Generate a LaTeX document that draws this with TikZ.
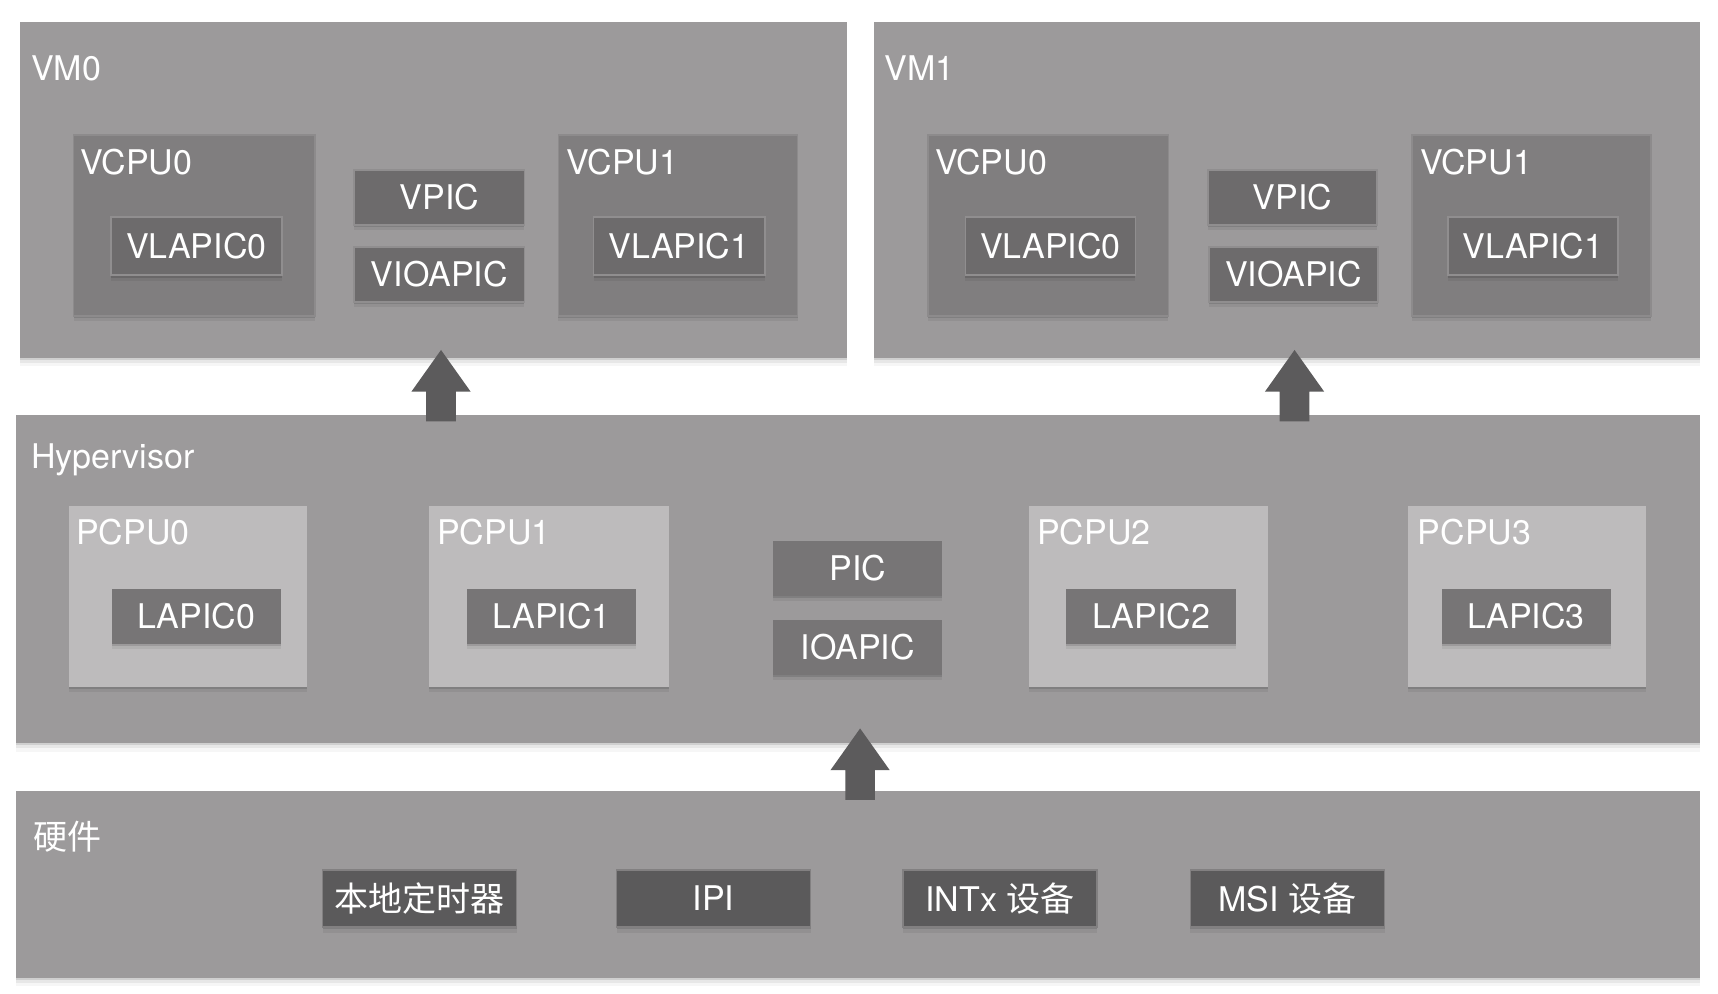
\documentclass[tikz,border=0pt]{standalone}
\usepackage{fontspec}
\setmainfont{TeX Gyre Heros}
\newfontfamily\cjk{Noto Sans CJK SC}
\usetikzlibrary{shadows}
\definecolor{clayer}{HTML}{9C9A9B}
\definecolor{cvcpu}{HTML}{807E7F}
\definecolor{cvin}{HTML}{6D6B6C}
\definecolor{cvedge}{HTML}{908E8F}
\definecolor{cpcpu}{HTML}{BDBBBC}
\definecolor{clapic}{HTML}{777576}
\definecolor{chw}{HTML}{5B5A5B}
\definecolor{carrow}{HTML}{5C5B5C}
\newcommand\BX[7]{\node[#2, minimum width={(#5-#3)*0.5pt}, minimum height={(#6-#4)*0.5pt}] (#1) at (#3,#4) {#7};}
\begin{document}
\begin{tikzpicture}[x=0.5pt,y=-0.5pt,
  softshadow/.style={drop shadow={shadow xshift=0pt, shadow yshift=-1pt, opacity=0.10, fill=black},
                     drop shadow={shadow xshift=0pt, shadow yshift=-2.5pt, opacity=0.06, fill=black},
                     drop shadow={shadow xshift=0pt, shadow yshift=-4pt, opacity=0.035, fill=black}},
  smallshadow/.style={drop shadow={shadow xshift=0pt, shadow yshift=-1pt, opacity=0.12, fill=black},
                     drop shadow={shadow xshift=0pt, shadow yshift=-2.5pt, opacity=0.06, fill=black}},
  box/.style={anchor=north west, inner sep=0pt, outer sep=0pt, text=white, font=\fontsize{15.5}{18}\selectfont},
  layerbox/.style={box, softshadow, fill=clayer},
  vcpubox/.style={box, smallshadow, fill=cvcpu, draw=cvedge!80!cvcpu, line width=0.6pt},
  vinbox/.style={box, smallshadow, fill=cvin, draw=cvedge, line width=0.8pt},
  pcpubox/.style={box, smallshadow, fill=cpcpu},
  lapicbox/.style={box, smallshadow, fill=clapic},
  hwbox/.style={box, smallshadow, fill=chw, draw=clayer!60!chw, line width=0.6pt},
  lbl/.style={anchor=west, inner sep=0pt, text=white, font=\fontsize{15.5}{18}\selectfont},
  uparrow/.pic={\fill[carrow] (-13.5,0) -- (-13.5,-27) -- (-27,-27) -- (0,-65) -- (27,-27) -- (13.5,-27) -- (13.5,0) -- cycle;}
]
\useasboundingbox (0,0) rectangle (1566,906);
\fill[white] (0,0) rectangle (1566,906);

% layers
\BX{vm0}{layerbox}{18}{20}{772}{326}{}
\BX{vm1}{layerbox}{797}{20}{1550}{326}{}
\BX{hv}{layerbox}{15}{378}{1550}{677}{}
\BX{hw}{layerbox}{15}{721}{1550}{891}{}

\node[lbl] (lvm0) at (28,62) {VM0};
\node[lbl] (lvm1) at (806,62) {VM1};
\node[lbl] (lhv) at (28,419) {Hypervisor};
\node[lbl, font=\cjk\fontsize{15.5}{18}\selectfont] (lhw) at (30,763) {硬件};

% VM0
\BX{vm0c0}{vcpubox}{67}{123}{287}{288}{}
\node[lbl] (lvm0c0) at (73,148) {VCPU0};
\BX{vm0l0}{vinbox}{101}{198}{257}{251}{VLAPIC0}
\BX{vm0pic}{vinbox}{323}{155}{478}{205}{VPIC}
\BX{vm0io}{vinbox}{323}{225}{478}{275}{VIOAPIC}
\BX{vm0c1}{vcpubox}{509}{123}{727}{288}{}
\node[lbl] (lvm0c1) at (516,148) {VCPU1};
\BX{vm0l1}{vinbox}{541}{198}{697}{251}{VLAPIC1}

% VM1
\BX{vm1c0}{vcpubox}{846}{123}{1065}{288}{}
\node[lbl] (lvm1c0) at (852,148) {VCPU0};
\BX{vm1l0}{vinbox}{880}{198}{1035}{251}{VLAPIC0}
\BX{vm1pic}{vinbox}{1101}{155}{1255}{205}{VPIC}
\BX{vm1io}{vinbox}{1102}{225}{1256}{275}{VIOAPIC}
\BX{vm1c1}{vcpubox}{1287}{123}{1505}{288}{}
\node[lbl] (lvm1c1) at (1294,148) {VCPU1};
\BX{vm1l1}{vinbox}{1320}{198}{1475}{251}{VLAPIC1}

% Hypervisor
\BX{p0}{pcpubox}{63}{461}{280}{626}{}
\node[lbl] (lp0) at (69,485) {PCPU0};
\BX{la0}{lapicbox}{102}{537}{256}{587}{LAPIC0}
\BX{p1}{pcpubox}{391}{461}{610}{626}{}
\node[lbl] (lp1) at (398,485) {PCPU1};
\BX{la1}{lapicbox}{426}{537}{580}{587}{LAPIC1}
\BX{pic}{lapicbox}{705}{493}{859}{543}{PIC}
\BX{ioapic}{lapicbox}{705}{565}{859}{615}{IOAPIC}
\BX{p2}{pcpubox}{938}{461}{1156}{626}{}
\node[lbl] (lp2) at (945,485) {PCPU2};
\BX{la2}{lapicbox}{972}{537}{1127}{587}{LAPIC2}
\BX{p3}{pcpubox}{1283}{461}{1500}{626}{}
\node[lbl] (lp3) at (1292,485) {PCPU3};
\BX{la3}{lapicbox}{1314}{537}{1468}{587}{LAPIC3}

% Hardware
\BX{timer}{hwbox}{294}{793}{471}{845}{\cjk 本地定时器}
\BX{ipi}{hwbox}{562}{793}{739}{845}{IPI}
\BX{intx}{hwbox}{823}{793}{1000}{845}{INTx {\cjk 设备}}
\BX{msi}{hwbox}{1085}{793}{1262}{845}{MSI {\cjk 设备}}

% arrows
\coordinate (a0) at (402,384);
\coordinate (a1) at (1180,384);
\coordinate (a2) at (784,729);
\pic at (a0) {uparrow};
\pic at (a1) {uparrow};
\pic at (a2) {uparrow};
\end{tikzpicture}
\end{document}
